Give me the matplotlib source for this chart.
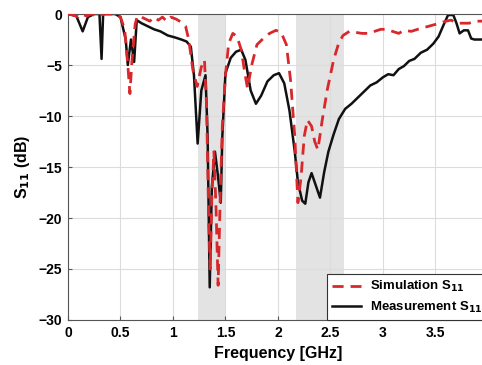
import matplotlib
matplotlib.use("Agg")
import matplotlib.pyplot as plt

plt.rcParams["font.family"] = ["Liberation Sans", "DejaVu Sans"]
plt.rcParams["font.weight"] = "bold"
plt.rcParams["mathtext.default"] = "bf"

# Measured S11 (GHz, dB)
meas_f = [0.00, 0.08, 0.14, 0.19, 0.25, 0.30, 0.32, 0.335, 0.45, 0.50, 0.55, 0.57,
          0.60, 0.63, 0.655, 0.70, 0.76, 0.82, 0.88, 0.95, 1.02, 1.08, 1.13, 1.17,
          1.20, 1.235, 1.27, 1.31, 1.33, 1.35, 1.37, 1.40, 1.43, 1.455, 1.47, 1.50,
          1.55, 1.60, 1.65, 1.69, 1.74, 1.79, 1.84, 1.90, 1.96, 2.01, 2.06, 2.11,
          2.16, 2.19, 2.23, 2.26, 2.29, 2.32, 2.36, 2.40, 2.44, 2.48, 2.53, 2.58,
          2.64, 2.70, 2.76, 2.82, 2.88, 2.94, 3.00, 3.05, 3.10, 3.15, 3.20, 3.25,
          3.30, 3.36, 3.42, 3.48, 3.53, 3.58, 3.62, 3.67, 3.70, 3.73, 3.77, 3.81,
          3.84, 3.87, 3.94, 4.00]
meas_db = [0.0, -0.2, -1.7, -0.3, 0.0, 0.0, -4.4, 0.0, 0.0, -0.3, -2.5, -5.0,
           -2.5, -4.7, -0.6, -0.9, -1.2, -1.5, -1.7, -2.1, -2.3, -2.5, -2.7, -3.2,
           -6.0, -12.7, -7.5, -6.0, -12.0, -26.8, -17.0, -13.5, -16.0, -18.5, -12.0, -5.8,
           -4.3, -3.7, -3.5, -4.5, -7.5, -8.8, -8.0, -6.6, -6.0, -5.8, -6.8, -9.5,
           -13.5, -16.5, -18.3, -18.6, -16.5, -15.6, -16.8, -18.0, -15.5, -13.5, -11.8, -10.3,
           -9.3, -8.8, -8.2, -7.6, -7.0, -6.7, -6.2, -5.9, -6.0, -5.4, -5.1, -4.6,
           -4.4, -3.8, -3.5, -2.9, -2.2, -1.0, -0.1, -0.1, -0.9, -1.9, -1.6, -1.6,
           -2.4, -2.5, -2.5, -2.4]

# Simulated S11 (GHz, dB)
sim_f = [0.00, 0.05, 0.10, 0.13, 0.18, 0.22, 0.28, 0.35, 0.45, 0.50, 0.54, 0.57,
         0.59, 0.61, 0.64, 0.66, 0.70, 0.74, 0.78, 0.82, 0.86, 0.90, 0.94, 0.98,
         1.03, 1.08, 1.12, 1.15, 1.19, 1.23, 1.27, 1.30, 1.32, 1.34, 1.355, 1.37,
         1.39, 1.41, 1.43, 1.45, 1.47, 1.50, 1.53, 1.57, 1.61, 1.65, 1.68, 1.71,
         1.75, 1.80, 1.86, 1.92, 1.98, 2.03, 2.08, 2.12, 2.16, 2.19, 2.22, 2.25,
         2.28, 2.32, 2.35, 2.38, 2.42, 2.47, 2.53, 2.58, 2.62, 2.68, 2.74, 2.80,
         2.86, 2.92, 2.98, 3.04, 3.09, 3.15, 3.20, 3.27, 3.33, 3.40, 3.47, 3.54,
         3.60, 3.65, 3.70, 3.76, 3.82, 3.88, 3.94, 4.00]
sim_db = [0.0, -0.1, -0.3, 0.0, -0.2, 0.0, -0.2, 0.0, 0.0, -0.3, -1.5, -5.0,
          -7.8, -4.5, -1.0, -0.2, -0.3, -0.5, -0.7, -0.3, -0.6, -0.3, -0.7, -0.3,
          -0.5, -0.8, -1.2, -2.5, -5.5, -7.1, -5.2, -4.5, -9.0, -20.0, -25.0, -18.0,
          -13.5, -19.0, -26.6, -18.0, -11.0, -6.0, -2.9, -1.9, -2.2, -3.5, -5.5, -7.3,
          -5.0, -3.0, -2.4, -1.9, -1.6, -1.8, -3.0, -6.5, -12.0, -18.5, -16.0, -12.0,
          -10.4, -11.0, -12.5, -13.3, -10.5, -7.4, -4.5, -2.8, -2.1, -1.7, -1.8, -1.9,
          -1.9, -1.7, -1.5, -1.5, -1.7, -1.9, -1.6, -1.7, -1.5, -1.3, -1.1, -0.9,
          -0.7, -0.6, -0.9, -0.9, -0.9, -0.7, -0.7, -0.7]

# Operating bands (GHz)
bands = [(1.24, 1.50), (2.17, 2.63)]

x_ticks = [0, 0.5, 1, 1.5, 2, 2.5, 3, 3.5]
x_tick_labels = ["0", "0.5", "1", "1.5", "2", "2.5", "3", "3.5"]
y_ticks = [0, -5, -10, -15, -20, -25, -30]

fig = plt.figure(figsize=(4.82, 3.65), dpi=100)
ax = fig.add_axes([0.141, 0.1233, 0.8714, 0.8383])

for lo, hi in bands:
    ax.axvspan(lo, hi, color="#e3e3e3", zorder=0, lw=0)

ax.plot(sim_f, sim_db, color="#d8282b", lw=2.0, dashes=(4, 2.5),
        label=r"Simulation S$_{11}$", zorder=3)
ax.plot(meas_f, meas_db, color="#111111", lw=1.8,
        label=r"Measurement S$_{11}$", zorder=2)

ax.set_xlim(0, 4)
ax.set_ylim(-30, 0)
ax.set_xticks(x_ticks)
ax.set_xticklabels(x_tick_labels)
ax.set_yticks(y_ticks)
ax.grid(True, color="#dcdcdc", lw=0.8)
ax.set_axisbelow(True)
ax.tick_params(direction="in", labelsize=10, length=3, color="#555555", pad=4)
for s in ax.spines.values():
    s.set_color("#555555")
    s.set_linewidth(0.8)

ax.set_xlabel("Frequency [GHz]", fontsize=11.5, fontweight="bold", labelpad=5)
ax.set_ylabel(r"S$_{11}$ (dB)", fontsize=11.5, fontweight="bold", labelpad=5)

leg = ax.legend(loc="lower right", fontsize=9.5, frameon=True, fancybox=False,
                edgecolor="#333333", framealpha=1.0, borderaxespad=0.0,
                handlelength=2.2, handletextpad=0.7, borderpad=0.4, labelspacing=0.4)
leg.get_frame().set_linewidth(0.8)

fig.savefig("out.png", dpi=100)
